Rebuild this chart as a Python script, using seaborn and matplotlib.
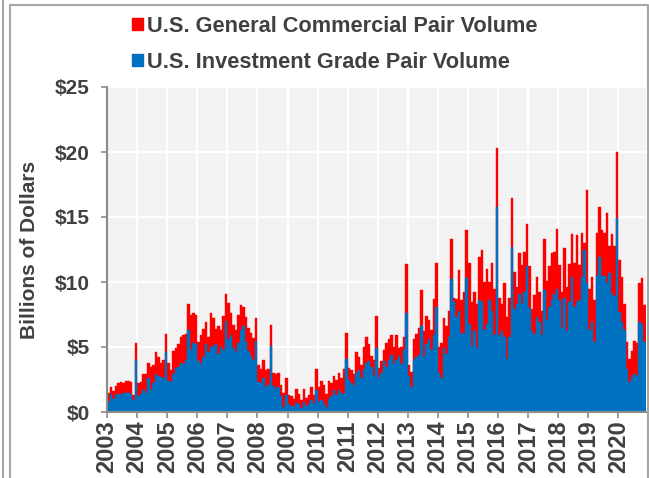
import numpy as np
import pandas as pd
import matplotlib
matplotlib.use("Agg")
import matplotlib.pyplot as plt
import seaborn as sns
from matplotlib.patches import Patch
from matplotlib.lines import Line2D

# monthly pair volume, $ billions, Jan 2003 - Nov 2020
year_labels = [str(y) for y in range(2003, 2021)]

# U.S. Investment Grade pair volume (blue, bottom of stack)
investment_grade = [
    0.8, 1.4, 1.0, 1.3, 1.4, 1.3, 1.5, 1.5, 1.5, 1.4, 0.9, 4.0,        # 2003
    1.2, 1.4, 1.7, 1.5, 2.6, 1.7, 2.2, 2.9, 2.8, 2.7, 2.6, 4.6,        # 2004
    2.4, 2.3, 2.9, 3.4, 3.5, 3.8, 3.7, 4.0, 6.3, 4.8, 5.3, 5.2,        # 2005
    3.9, 3.7, 4.2, 5.2, 4.6, 5.0, 5.1, 5.2, 4.5, 5.0, 4.8, 7.0,        # 2006
    5.6, 5.9, 4.9, 4.6, 5.3, 6.3, 6.6, 5.4, 4.7, 4.3, 4.0, 5.5,        # 2007
    2.3, 2.2, 2.6, 1.9, 2.1, 5.1, 2.0, 1.8, 1.9, 1.2, 0.4, 1.3,        # 2008
    0.6, 0.5, 0.4, 0.7, 0.6, 0.3, 0.8, 0.5, 0.6, 0.9, 0.6, 1.7,        # 2009
    0.8, 0.9, 0.7, 0.4, 1.0, 1.2, 1.7, 1.3, 1.7, 1.5, 1.4, 4.1,        # 2010
    2.5, 2.2, 2.0, 3.0, 3.2, 2.6, 3.3, 3.8, 3.9, 3.5, 2.8, 4.9,        # 2011
    2.6, 3.0, 3.9, 3.5, 4.0, 4.4, 3.7, 4.0, 4.3, 3.7, 4.8, 7.6,        # 2012
    2.8, 1.9, 4.0, 4.2, 4.4, 6.6, 4.2, 5.2, 5.6, 4.8, 5.9, 8.1,        # 2013
    3.0, 2.6, 4.9, 4.5, 5.8, 10.2, 8.5, 7.3, 7.8, 6.1, 6.0, 10.3,      # 2014
    6.8, 5.1, 6.2, 4.9, 8.6, 8.5, 6.3, 6.8, 8.6, 7.8, 5.9, 15.8,       # 2015
    5.9, 6.2, 5.8, 4.1, 5.8, 12.7, 7.9, 8.3, 9.1, 8.3, 9.2, 11.2,      # 2016
    8.0, 6.2, 6.0, 7.3, 6.9, 5.9, 9.4, 7.1, 8.1, 8.6, 9.1, 9.5,        # 2017
    8.6, 6.5, 8.8, 6.2, 8.5, 10.4, 8.1, 8.5, 8.6, 10.4, 12.5, 9.9,     # 2018
    6.3, 6.9, 5.4, 10.5, 11.9, 10.5, 10.5, 9.9, 10.7, 9.1, 8.9, 14.9,  # 2019
    7.7, 6.9, 6.3, 3.3, 2.3, 2.7, 2.9, 2.8, 6.9, 6.8, 5.4,             # 2020
]

# top of stack: investment grade + general commercial
stack_total = [
    1.5, 1.9, 1.6, 2.0, 2.2, 2.3, 2.2, 2.4, 2.4, 2.3, 1.3, 5.3,
    2.2, 2.3, 2.9, 2.9, 3.8, 3.5, 3.6, 4.6, 4.2, 3.8, 4.0, 6.0,
    3.8, 3.2, 4.7, 4.9, 5.2, 5.8, 5.9, 6.0, 8.3, 7.5, 7.6, 7.5,
    5.4, 5.9, 6.4, 6.9, 5.8, 7.6, 7.2, 6.4, 6.6, 6.3, 7.4, 9.1,
    8.4, 7.6, 6.7, 6.3, 7.5, 8.2, 8.1, 7.3, 6.5, 6.1, 5.7, 7.2,
    3.6, 3.3, 4.0, 3.2, 3.3, 6.7, 3.0, 2.9, 3.0, 2.1, 1.5, 2.6,
    1.3, 1.2, 1.0, 1.8, 1.4, 0.9, 1.8, 1.1, 1.3, 1.9, 1.3, 3.3,
    1.9, 2.4, 2.1, 1.4, 2.4, 2.2, 2.8, 2.5, 3.0, 2.6, 3.3, 6.1,
    3.4, 3.2, 2.9, 4.6, 4.2, 3.6, 5.0, 5.8, 5.2, 4.3, 4.0, 7.4,
    3.4, 3.9, 4.8, 5.3, 5.6, 5.9, 5.0, 5.9, 4.9, 5.0, 5.8, 11.4,
    3.6, 3.1, 5.6, 6.0, 6.5, 9.4, 6.2, 7.4, 7.1, 6.3, 8.7, 11.5,
    5.0, 5.3, 7.2, 6.6, 7.8, 13.3, 8.8, 8.7, 10.9, 8.6, 9.2, 14.0,
    11.5, 8.5, 9.2, 8.3, 11.9, 12.5, 10.0, 11.0, 10.0, 11.5, 9.5, 20.3,
    8.8, 8.3, 9.9, 7.3, 8.8, 16.5, 10.8, 9.6, 12.2, 11.3, 12.3, 14.5,
    11.2, 7.9, 9.0, 10.4, 9.2, 7.8, 13.3, 10.1, 11.2, 12.2, 12.3, 14.1,
    11.3, 9.2, 12.6, 9.6, 11.4, 13.7, 11.5, 13.6, 11.3, 13.8, 13.0, 17.1,
    9.5, 10.4, 8.6, 13.8, 15.8, 14.0, 13.8, 15.3, 12.8, 13.7, 12.8, 20.0,
    11.7, 10.4, 8.3, 5.4, 4.1, 4.7, 5.5, 5.3, 9.9, 10.3, 8.2,
]

df = pd.DataFrame({
    "month": pd.date_range("2003-01-01", periods=len(stack_total), freq="MS"),
    "ig": investment_grade,
    "total": stack_total,
})
df["gc"] = df["total"] - df["ig"]
df["pos"] = np.arange(len(df))

RED = "#FF0000"
BLUE = "#0070C0"
TXT = "#404040"

sns.set_style("whitegrid", {"axes.facecolor": "#F2F2F2", "grid.color": "white"})
plt.rcParams["font.family"] = ["Liberation Sans", "DejaVu Sans"]

fig = plt.figure(figsize=(6.49, 4.78), dpi=100)
ax = fig.add_axes([107 / 649, 66 / 478, 539 / 649, 325 / 478])

# stacked: draw full height in red, then the IG part in blue over it
sns.barplot(data=df, x="pos", y="total", color=RED, saturation=1, width=1.0,
            edgecolor=RED, linewidth=0.3, errorbar=None, ax=ax)
sns.barplot(data=df, x="pos", y="ig", color=BLUE, saturation=1, width=1.0,
            edgecolor=BLUE, linewidth=0.3, errorbar=None, ax=ax)

ax.set_xlim(-0.5, len(df) - 0.5)
ax.set_ylim(0, 25)
ax.set_xticks([12 * i - 0.5 for i in range(len(year_labels))])
ax.set_xticklabels(year_labels, rotation=90, fontsize=17, fontweight="bold", color=TXT)
ax.set_yticks(range(0, 30, 5))
ax.set_yticklabels([f"${v}" for v in range(0, 30, 5)], fontsize=15,
                   fontweight="bold", color=TXT)
ax.set_xlabel("")
ax.set_ylabel("Billions of Dollars", fontsize=15, fontweight="bold", color=TXT)
ax.yaxis.set_label_coords(-0.126, 0.5)

ax.grid(True, color="white", linewidth=1.6)
ax.set_axisbelow(True)
for s in ["top", "right"]:
    ax.spines[s].set_visible(False)
for s in ["left", "bottom"]:
    ax.spines[s].set_color("#8C8C8C")
    ax.spines[s].set_linewidth(1.5)
ax.tick_params(axis="y", length=4.5, width=1.2, color="#8C8C8C", pad=8, left=True)
ax.tick_params(axis="x", length=4, width=1.2, color="#8C8C8C", pad=2, bottom=True)

handles = [Patch(color=RED, label="U.S. General Commercial Pair Volume"),
           Patch(color=BLUE, label="U.S. Investment Grade Pair Volume")]
fig.legend(handles=handles, loc="upper left", bbox_to_anchor=(132 / 649, 1 - 16 / 478),
           frameon=False, prop={"weight": "bold", "size": 15.7}, labelcolor=TXT,
           handlelength=0.5, handleheight=0.5, handletextpad=0.2,
           labelspacing=0.68, borderpad=0, borderaxespad=0)

# screenshot frame lines
def px_line(x0, y0, x1, y1):
    fig.add_artist(Line2D([x0 / 649, x1 / 649], [1 - y0 / 478, 1 - y1 / 478],
                          transform=fig.transFigure, color="#A6A6A6", linewidth=1.5))

px_line(3, 0, 3, 478)
px_line(10, 5, 10, 478)
px_line(10, 5, 647, 5)
px_line(647.5, 5, 647.5, 478)

fig.savefig("out.png", dpi=100)
